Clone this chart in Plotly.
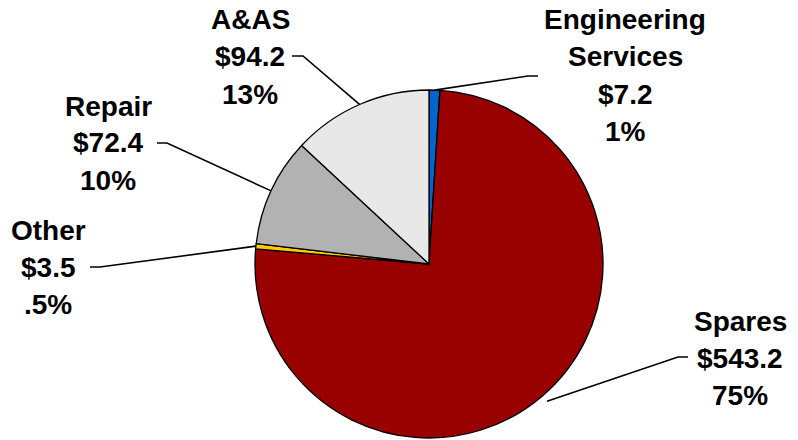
import math
import plotly.graph_objects as go

# ---- data ----
categories = ["Engineering Services", "Spares", "Other", "Repair", "A&AS"]
values = [7.2, 543.2, 3.5, 72.4, 94.2]
value_labels = ["$7.2", "$543.2", "$3.5", "$72.4", "$94.2"]
pct_labels = ["1%", "75%", ".5%", "10%", "13%"]
name_lines = [["Engineering", "Services"], ["Spares"], ["Other"], ["Repair"], ["A&AS"]]
colors = ["#0066CC", "#990000", "#FFCC00", "#B2B2B2", "#E8E8E8"]

W, H = 798, 440
CX, CY, R = 429, 264, 174

# label layout (pixel positions): center x, y of value line, tail start/end x, line y
label_layout = {
    "Engineering Services": dict(x=625, yv=94, tail=(538, 528), ty=76, rk=1.0),
    "Spares": dict(x=740, yv=358, tail=(688, 678), ty=357, rk=1.04),
    "Other": dict(x=48, yv=267, tail=(90, 100), ty=267, rk=1.0),
    "Repair": dict(x=108, yv=143, tail=(157, 167), ty=143, rk=1.0),
    "A&AS": dict(x=250, yv=57, tail=(292, 303), ty=56, rk=1.0),
}
LS = 37  # line spacing px
FONT = dict(family="Liberation Sans, Arial, sans-serif", size=28, color="black")


def px(x):
    return x / W


def py(y):
    return 1 - y / H


fig = go.Figure(go.Pie(
    labels=categories, values=values, sort=False, direction="clockwise",
    rotation=0, textinfo="none", hoverinfo="label+value+percent",
    marker=dict(colors=colors, line=dict(color="black", width=1.3)),
    domain=dict(x=[px(CX - R), px(CX + R)], y=[py(CY + R), py(CY - R)]),
    showlegend=False,
))

annotations = []
shapes = []
total = sum(values)
cum = 0.0
for cat, v, vl, pl, nl in zip(categories, values, value_labels, pct_labels, name_lines):
    mid = (cum + v / 2) / total * 2 * math.pi
    cum += v
    L = label_layout[cat]
    ex = CX + R * L["rk"] * math.sin(mid)
    ey = CY - R * L["rk"] * math.cos(mid)
    lines = nl + [vl, pl]
    n_name = len(nl)
    for i, t in enumerate(lines):
        yy = L["yv"] + (i - n_name) * LS
        annotations.append(dict(
            x=px(L["x"]), y=py(yy), xref="paper", yref="paper", text="<b>%s</b>" % t,
            showarrow=False, xanchor="center", yanchor="middle", font=FONT))
    t0, t1 = L["tail"]
    shapes.append(dict(
        type="path", xref="paper", yref="paper",
        path="M %f %f L %f %f L %f %f" % (px(t0), py(L["ty"]), px(t1), py(L["ty"]), px(ex), py(ey)),
        line=dict(color="black", width=1.6)))

fig.update_layout(
    width=W, height=H, margin=dict(l=0, r=0, t=0, b=0),
    paper_bgcolor="white", plot_bgcolor="white",
    annotations=annotations, shapes=shapes,
)
fig.write_html("out.html", config={"displayModeBar": False},
               post_script="document.body.style.margin='0';")
